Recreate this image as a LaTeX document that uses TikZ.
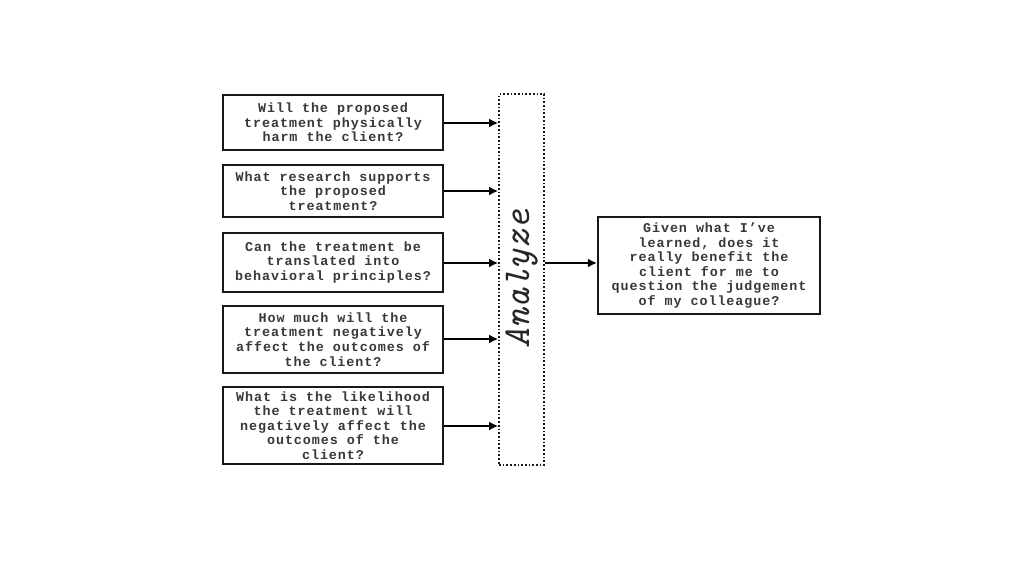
\documentclass[tikz,border=0pt]{standalone}
\usepackage{fontspec}
\setmonofont{Liberation Mono}
\usetikzlibrary{arrows.meta}
\newfontfamily\boxfont[LetterSpace=7]{Liberation Mono Bold}
\begin{document}
\begin{tikzpicture}[x=1pt,y=-1pt,
  qbox/.style={draw=black!90,line width=2.2pt,minimum width=220pt,inner sep=0pt,
    align=center,font=\boxfont\fontsize{13.4}{14.6}\selectfont,text=black!78},
  conn/.style={line width=2pt,-{Latex[length=9pt,width=9pt]}}]
\useasboundingbox[fill=white] (0,0) rectangle (1024,576);
\node[qbox,minimum height=55pt] (b1) at (333,122.5) {Will the proposed\\treatment physically\\harm the client?};
\node[qbox,minimum height=52pt] (b2) at (333,191) {What research supports\\the proposed\\treatment?};
\node[qbox,minimum height=59pt] (b3) at (333,262.5) {Can the treatment be\\translated into\\behavioral principles?};
\node[qbox,minimum height=67pt] (b4) at (333,339.5) {How much will the\\treatment negatively\\affect the outcomes of\\the client?};
\node[qbox,minimum height=77pt] (b5) at (333,425.5) {What is the likelihood\\the treatment will\\negatively affect the\\outcomes of the\\client?};
\node[draw=black!90,line width=1.7pt,dotted,minimum width=45pt,minimum height=371pt,inner sep=0pt] (an) at (521.5,279.5) {};
\node[rotate=90,font=\fontfamily{lmtt}\itshape\fontsize{38}{40}\selectfont,text=black!85] (antext) at (522,279) {Analyze};
\node[qbox,minimum width=222pt,minimum height=97pt] (rb) at (709,265.5) {Given what I’ve\\learned, does it\\really benefit the\\client for me to\\question the judgement\\of my colleague?};
\foreach \bx/\yy in {b1/123,b2/191,b3/263,b4/339,b5/426}{
  \draw[conn] (\bx.east |- 0,\yy) -- (an.west |- 0,\yy);
}
\draw[conn] (an.east |- 0,263) -- (rb.west |- 0,263);
\end{tikzpicture}
\end{document}
